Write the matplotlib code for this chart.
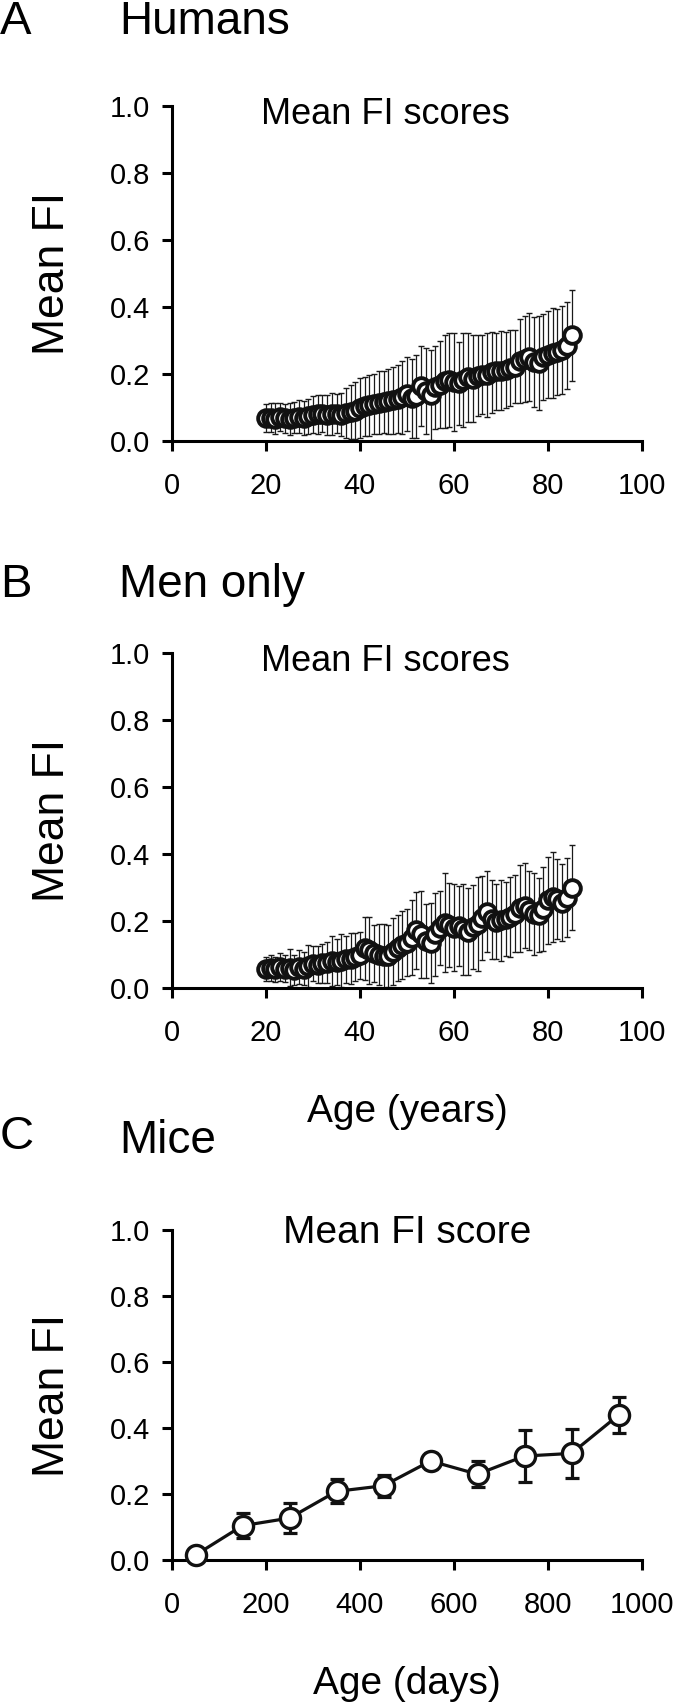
import matplotlib
matplotlib.use("Agg")
import matplotlib.pyplot as plt

plt.rcParams["font.family"] = ["Liberation Sans", "DejaVu Sans"]

# ages 20..85 for the human panels
ages = list(range(20, 86))

humans_mean = [
    0.068, 0.070, 0.066, 0.072, 0.068, 0.066, 0.070, 0.073, 0.068, 0.074,
    0.078, 0.080, 0.082, 0.078, 0.080, 0.082, 0.079, 0.083, 0.086, 0.090,
    0.098, 0.103, 0.106, 0.110, 0.114, 0.116, 0.118, 0.121, 0.125, 0.130,
    0.140, 0.128, 0.133, 0.165, 0.150, 0.138, 0.160, 0.168, 0.178, 0.182,
    0.176, 0.172, 0.183, 0.190, 0.186, 0.195, 0.198, 0.196, 0.205, 0.208,
    0.210, 0.212, 0.218, 0.222, 0.238, 0.245, 0.250, 0.236, 0.232, 0.250,
    0.258, 0.262, 0.266, 0.272, 0.285, 0.315,
]
humans_sd = [
    0.042, 0.044, 0.046, 0.041, 0.043, 0.047, 0.045, 0.048, 0.050, 0.052,
    0.055, 0.058, 0.054, 0.060, 0.062, 0.058, 0.065, 0.075, 0.080, 0.085,
    0.090, 0.088, 0.092, 0.090, 0.094, 0.092, 0.098, 0.100, 0.102, 0.108,
    0.110, 0.118, 0.125, 0.120, 0.128, 0.135, 0.125, 0.130, 0.138, 0.140,
    0.145, 0.125, 0.140, 0.132, 0.130, 0.120, 0.118, 0.125, 0.120, 0.115,
    0.118, 0.112, 0.114, 0.110, 0.125, 0.128, 0.132, 0.135, 0.140, 0.128,
    0.130, 0.135, 0.128, 0.132, 0.130, 0.135,
]

men_mean = [
    0.058, 0.060, 0.056, 0.062, 0.058, 0.060, 0.055, 0.063, 0.058, 0.066,
    0.072, 0.070, 0.074, 0.076, 0.080, 0.078, 0.082, 0.086, 0.088, 0.092,
    0.098, 0.118, 0.112, 0.104, 0.100, 0.096, 0.095, 0.108, 0.120, 0.128,
    0.135, 0.150, 0.172, 0.160, 0.140, 0.135, 0.160, 0.180, 0.195, 0.188,
    0.180, 0.185, 0.175, 0.168, 0.182, 0.190, 0.210, 0.228, 0.205, 0.198,
    0.202, 0.205, 0.212, 0.222, 0.238, 0.246, 0.232, 0.220, 0.218, 0.235,
    0.262, 0.272, 0.265, 0.255, 0.270, 0.300,
]
men_sd = [
    0.036, 0.040, 0.038, 0.042, 0.040, 0.055, 0.045, 0.050, 0.048, 0.062,
    0.052, 0.055, 0.058, 0.060, 0.075, 0.068, 0.078, 0.070, 0.075, 0.072,
    0.070, 0.095, 0.100, 0.085, 0.090, 0.095, 0.092, 0.100, 0.098, 0.102,
    0.100, 0.112, 0.115, 0.130, 0.110, 0.120, 0.125, 0.110, 0.148, 0.125,
    0.130, 0.120, 0.135, 0.130, 0.125, 0.140, 0.125, 0.120, 0.118, 0.112,
    0.120, 0.110, 0.118, 0.115, 0.130, 0.128, 0.118, 0.122, 0.110, 0.125,
    0.130, 0.135, 0.120, 0.115, 0.118, 0.128,
]

mice_days = [50, 150, 250, 350, 450, 550, 650, 750, 850, 950]
mice_mean = [0.015, 0.104, 0.127, 0.208, 0.225, 0.300, 0.260, 0.315, 0.323, 0.439]
mice_err = [0.008, 0.038, 0.046, 0.036, 0.034, 0.025, 0.040, 0.078, 0.075, 0.055]

W, H = 675, 1703
fig = plt.figure(figsize=(W / 100, H / 100), dpi=100)


def style_axes(ax, xmax, xticks):
    ax.set_xlim(0, xmax)
    ax.set_ylim(0, 1.0)
    ax.set_xticks(xticks)
    ax.set_yticks([0.0, 0.2, 0.4, 0.6, 0.8, 1.0])
    ax.set_yticklabels(["0.0", "0.2", "0.4", "0.6", "0.8", "1.0"])
    for s in ["top", "right"]:
        ax.spines[s].set_visible(False)
    for s in ["left", "bottom"]:
        ax.spines[s].set_linewidth(2.2)
    ax.tick_params(direction="out", length=7, width=2.2, labelsize=21)
    ax.tick_params(axis="x", pad=15)
    ax.tick_params(axis="y", pad=9)
    ax.set_ylabel("Mean FI", fontsize=32, labelpad=26)
    for lbl in ax.get_xticklabels() + ax.get_yticklabels():
        lbl.set_clip_on(False)


def human_panel(rect, mean, sd):
    ax = fig.add_axes(rect)
    ax.errorbar(ages, mean, yerr=sd, fmt="none", ecolor="#1a1a1a",
                elinewidth=0.9, capsize=2.5, capthick=1.0, zorder=2)
    ax.plot(ages, mean, "o", ms=12, mfc="white", mec="#111111",
            mew=2.8, zorder=3, clip_on=False)
    style_axes(ax, 100, [0, 20, 40, 60, 80, 100])
    ax.text(0.455, 0.945, "Mean FI scores", transform=ax.transAxes,
            ha="center", va="baseline", fontsize=26)
    return ax


left = 172 / W
width = 470 / W

axA = human_panel([left, 1 - 441 / H, width, 335 / H], humans_mean, humans_sd)
axB = human_panel([left, 1 - 988 / H, width, 335 / H], men_mean, men_sd)
axB.set_xlabel("Age (years)", fontsize=28, labelpad=34)

axC = fig.add_axes([left, 1 - 1560 / H, width, 330 / H])
axC.errorbar(mice_days, mice_mean, yerr=mice_err, fmt="-", color="#111111",
             lw=2.3, elinewidth=2.3, capsize=5, capthick=2.3, zorder=2)
axC.plot(mice_days, mice_mean, "o", ms=14.5, mfc="white", mec="#111111",
         mew=2.4, zorder=3, clip_on=False)
style_axes(axC, 1000, [0, 200, 400, 600, 800, 1000])
axC.text(0.5, 0.96, "Mean FI score", transform=axC.transAxes,
         ha="center", va="baseline", fontsize=28)
axC.set_xlabel("Age (days)", fontsize=28, labelpad=34)

# panel letters and titles
fig.text(0 / W, 1 - 22 / H, "A", fontsize=34, va="center", ha="left")
fig.text(119 / W, 1 - 22 / H, "Humans", fontsize=33, va="center", ha="left")
fig.text(0 / W, 1 - 585 / H, "B", fontsize=34, va="center", ha="left")
fig.text(119 / W, 1 - 585 / H, "Men only", fontsize=33, va="center", ha="left")
fig.text(0 / W, 1 - 1137 / H, "C", fontsize=34, va="center", ha="left")
fig.text(119 / W, 1 - 1141 / H, "Mice", fontsize=33, va="center", ha="left")

fig.savefig("out.png", dpi=100)
